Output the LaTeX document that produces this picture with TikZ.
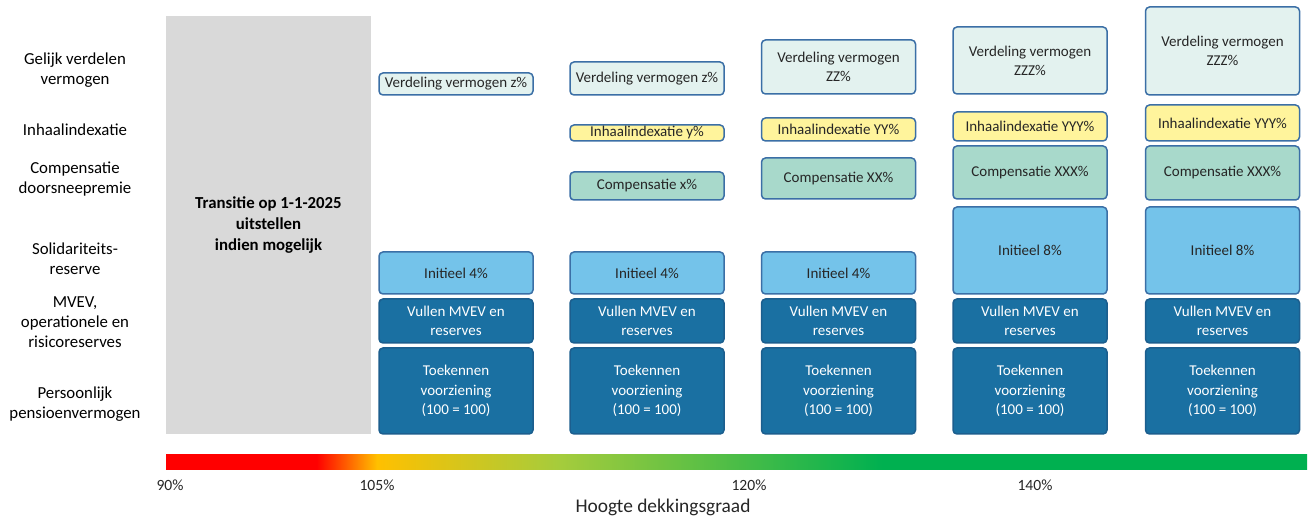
\documentclass[tikz,border=0pt]{standalone}
\usepackage{fontspec}
\setmainfont{Carlito}
\usepackage{xcolor}
\usepackage{tikz}
\usetikzlibrary{calc}
\definecolor{ink}{HTML}{262626}
\definecolor{greybox}{HTML}{D9D9D9}
\definecolor{edge}{HTML}{3B6FA6}
\definecolor{verdfill}{HTML}{E3F2EF}
\definecolor{inhfill}{HTML}{FFF49C}
\definecolor{compfill}{HTML}{A8D9CB}
\definecolor{solfill}{HTML}{74C3EA}
\definecolor{resfill}{HTML}{1A70A2}
\definecolor{resedge}{HTML}{1C5E8E}
\definecolor{barred}{HTML}{FF0000}
\definecolor{barorange}{HTML}{FFC000}
\definecolor{barlime}{HTML}{A5CC3C}
\definecolor{bargreen}{HTML}{00B050}
\pgfdeclarehorizontalshading{dgraad}{100bp}{color(0bp)=(barred); color(31.6bp)=(barred); color(34.25bp)=(barorange); color(42.25bp)=(barlime); color(56.4bp)=(bargreen); color(100bp)=(bargreen)}
\tikzset{
  side/.style={align=center, text=black, font=\fontsize{8.4}{10}\selectfont},
  trans/.style={fill=greybox, minimum width=102.5pt, minimum height=209pt, align=center, text=black, font=\fontsize{8.4}{10.5}\selectfont\bfseries},
  box/.style={draw=edge, line width=0.75pt, rounded corners=2pt, minimum width=77pt, inner sep=0pt, align=center, text=ink, font=\fontsize{7.5}{9.6}\selectfont},
  verd/.style={fill=verdfill},
  inh/.style={fill=inhfill},
  comp/.style={fill=compfill},
  sol/.style={fill=solfill},
  res/.style={fill=resfill, draw=resedge, text=white},
  bar/.style={shading=dgraad, minimum width=570.5pt, minimum height=7.5pt, inner sep=0pt},
  tick/.style={text=ink, font=\fontsize{7.8}{9}\selectfont},
  axis/.style={text=ink, font=\fontsize{9.7}{11}\selectfont},
}
\begin{document}
\begin{tikzpicture}[x=0.5pt,y=-0.5pt]
  \useasboundingbox (0,0) rectangle (1311,522);
  % row labels
  \node[side] (lVerd) at (75,70) {Gelijk verdelen\\vermogen};
  \node[side] (lInh) at (75,130) {Inhaalindexatie};
  \node[side] (lComp) at (75,179.5) {Compensatie\\doorsneepremie};
  \node[side] (lSol) at (75,259) {Solidariteits-\\reserve};
  \node[side] (lRes) at (75,322) {MVEV,\\operationele en\\risicoreserves};
  \node[side] (lPers) at (75,404) {Persoonlijk\\pensioenvermogen};
  % below 105%
  \node[trans] (trans) at (268.5,225) {Transitie op 1-1-2025\\uitstellen\\indien mogelijk};
  % gelijk verdelen
  \node[box,verd,minimum height=11pt] (verd1) at (456,84) {Verdeling vermogen z\%};
  \node[box,verd,minimum height=16.5pt] (verd2) at (647,78.5) {Verdeling vermogen z\%};
  \node[box,verd,minimum height=27pt] (verd3) at (838.5,67) {Verdeling vermogen\\ZZ\%};
  \node[box,verd,minimum height=33.5pt] (verd4) at (1030,60.5) {Verdeling vermogen\\ZZZ\%};
  \node[box,verd,minimum height=44pt] (verd5) at (1222.5,51) {Verdeling vermogen\\ZZZ\%};
  % inhaalindexatie
  \node[box,inh,minimum height=8pt] (inh2) at (647,133) {Inhaalindexatie y\%};
  \node[box,inh,minimum height=11.5pt] (inh3) at (838.5,129.5) {Inhaalindexatie YY\%};
  \node[box,inh,minimum height=14.5pt] (inh4) at (1030,126.5) {Inhaalindexatie YYY\%};
  \node[box,inh,minimum height=18pt] (inh5) at (1222.5,123) {Inhaalindexatie YYY\%};
  % compensatie
  \node[box,comp,minimum height=14pt] (comp2) at (647,186) {Compensatie x\%};
  \node[box,comp,minimum height=20.5pt] (comp3) at (838.5,178.5) {Compensatie XX\%};
  \node[box,comp,minimum height=26.5pt] (comp4) at (1030,172.5) {Compensatie XXX\%};
  \node[box,comp,minimum height=27pt] (comp5) at (1222.5,173) {Compensatie XXX\%};
  % solidariteitsreserve
  \node[box,sol,minimum height=21pt] (sol1) at (456,273) {Initieel 4\%};
  \node[box,sol,minimum height=21pt] (sol2) at (647,273) {Initieel 4\%};
  \node[box,sol,minimum height=21pt] (sol3) at (838.5,273) {Initieel 4\%};
  \node[box,sol,minimum height=43.5pt] (sol4) at (1030,250.5) {Initieel 8\%};
  \node[box,sol,minimum height=43.5pt] (sol5) at (1222.5,250.5) {Initieel 8\%};
  % reserves en pensioenvermogen
  \foreach \i/\x in {1/456,2/647,3/838.5,4/1030,5/1222.5} {
    \node[box,res,minimum height=22pt] (res\i) at (\x,321) {Vullen MVEV en\\reserves};
    \node[box,res,minimum height=43pt] (pers\i) at (\x,391) {Toekennen\\voorziening\\(100 = 100)};
  }
  % dekkingsgraad
  \node[bar] (bar) at (736.5,462.5) {};
  \node[tick] (t90) at (170,485) {90\%};
  \node[tick] (t105) at (377,485) {105\%};
  \node[tick] (t120) at (749,485) {120\%};
  \node[tick] (t140) at (1035,485) {140\%};
  \node[axis] (axis) at (663,507) {Hoogte dekkingsgraad};
\end{tikzpicture}
\end{document}
